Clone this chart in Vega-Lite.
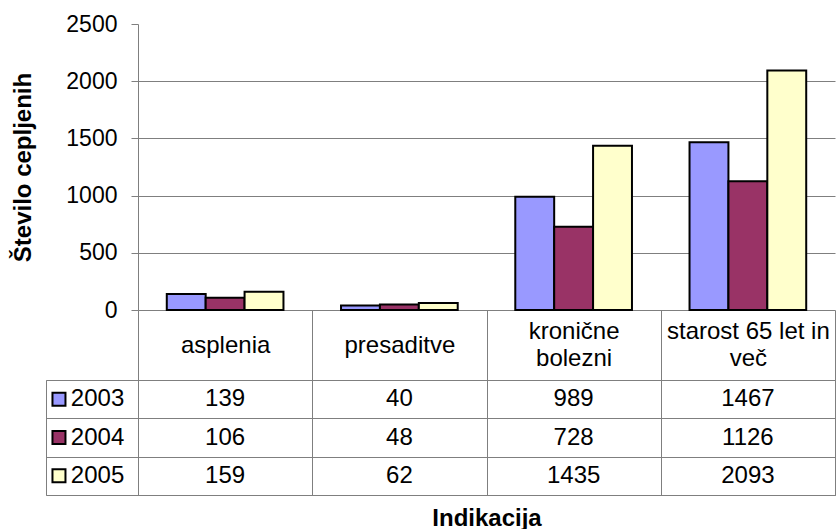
{
  "$schema": "https://vega.github.io/schema/vega-lite/v6.json",
  "background": "white",
  "padding": {"left": 11, "top": 13, "right": 0, "bottom": 0},
  "config": {
    "font": "Liberation Sans",
    "view": {"stroke": null},
    "axis": {"labelColor": "black", "titleColor": "black"}
  },
  "datasets": {
    "vals": [
      {"indikacija": "asplenia", "leto": "2003", "stevilo": 139},
      {"indikacija": "asplenia", "leto": "2004", "stevilo": 106},
      {"indikacija": "asplenia", "leto": "2005", "stevilo": 159},
      {"indikacija": "presaditve", "leto": "2003", "stevilo": 40},
      {"indikacija": "presaditve", "leto": "2004", "stevilo": 48},
      {"indikacija": "presaditve", "leto": "2005", "stevilo": 62},
      {"indikacija": "kronične bolezni", "leto": "2003", "stevilo": 989},
      {"indikacija": "kronične bolezni", "leto": "2004", "stevilo": 728},
      {"indikacija": "kronične bolezni", "leto": "2005", "stevilo": 1435},
      {"indikacija": "starost 65 let in več", "leto": "2003", "stevilo": 1467},
      {"indikacija": "starost 65 let in več", "leto": "2004", "stevilo": 1126},
      {"indikacija": "starost 65 let in več", "leto": "2005", "stevilo": 2093}
    ],
    "leta": [
      {"leto": "2003"},
      {"leto": "2004"},
      {"leto": "2005"}
    ]
  },
  "columns": 2,
  "spacing": {"row": 70, "column": 0},
  "bounds": "flush",
  "concat": [
    {
      "width": 92,
      "height": 286,
      "data": {"values": []},
      "mark": "point"
    },
    {
      "width": 697,
      "height": 286,
      "data": {"name": "vals"},
      "mark": {"type": "bar", "stroke": "black", "strokeWidth": 2},
      "encoding": {
        "x": {
          "field": "indikacija",
          "type": "nominal",
          "sort": ["asplenia", "presaditve", "kronične bolezni", "starost 65 let in več"],
          "scale": {"paddingInner": 0, "paddingOuter": 0},
          "axis": {
            "title": null,
            "labelAngle": 0,
            "labelFontSize": 24,
            "labelBaseline": "middle",
            "labelPadding": {"condition": {"test": "datum.value == 'asplenia' || datum.value == 'presaditve'", "value": -35}, "value": -49},
            "labelLimit": 0,
            "labelLineHeight": 27,
            "labelExpr": "datum.value == 'kronične bolezni' ? ['kronične', 'bolezni'] : datum.value == 'starost 65 let in več' ? ['starost 65 let in', 'več'] : datum.value",
            "tickBand": "extent",
            "tickSize": 70,
            "tickColor": "#7f7f7f",
            "domainColor": "#7f7f7f",
            "grid": false
          }
        },
        "xOffset": {
          "field": "leto",
          "type": "nominal",
          "scale": {"paddingOuter": 0.74, "paddingInner": 0}
        },
        "y": {
          "field": "stevilo",
          "type": "quantitative",
          "scale": {"domain": [0, 2500]},
          "axis": {
            "title": "Število cepljenih",
            "titleFontSize": 24,
            "titleFontWeight": "bold",
            "titlePadding": 30,
            "values": [0, 500, 1000, 1500, 2000, 2500],
            "format": "d",
            "labelFontSize": 23,
            "labelPadding": 14,
            "tickSize": 7,
            "tickColor": "#7f7f7f",
            "domainColor": "#7f7f7f",
            "grid": true,
            "gridColor": "#7f7f7f",
            "gridOpacity": {"condition": {"test": "datum.value == 2500 || datum.value == 0", "value": 0}, "value": 1}
          }
        },
        "color": {
          "field": "leto",
          "type": "nominal",
          "scale": {"range": ["#9999FF", "#993366", "#FFFFCC"]},
          "legend": null
        }
      }
    },
    {
      "width": 92,
      "height": 115,
      "data": {"name": "leta"},
      "view": {"stroke": "#7f7f7f"},
      "encoding": {
        "y": {
          "field": "leto",
          "type": "nominal",
          "scale": {"paddingInner": 0, "paddingOuter": 0},
          "axis": {"title": null, "labels": false, "ticks": false, "domain": false, "grid": true, "tickBand": "extent", "gridColor": "#7f7f7f"}
        }
      },
      "layer": [
        {
          "mark": {"type": "point", "shape": "square", "filled": true, "stroke": "black", "strokeWidth": 2, "size": 169, "opacity": 1},
          "encoding": {
            "x": {"datum": 0.141, "type": "quantitative", "scale": {"domain": [0, 1]}, "axis": null},
            "color": {
              "field": "leto",
              "type": "nominal",
              "scale": {"range": ["#9999FF", "#993366", "#FFFFCC"]},
              "legend": null
            }
          }
        },
        {
          "mark": {"type": "text", "align": "left", "baseline": "middle", "fontSize": 24, "color": "black"},
          "encoding": {
            "x": {"datum": 0.27, "type": "quantitative"},
            "text": {"field": "leto", "type": "nominal"}
          }
        }
      ]
    },
    {
      "width": 697,
      "height": 115,
      "data": {"name": "vals"},
      "view": {"stroke": "#7f7f7f"},
      "mark": {"type": "text", "fontSize": 24, "baseline": "middle", "color": "black"},
      "encoding": {
        "x": {
          "field": "indikacija",
          "type": "nominal",
          "sort": ["asplenia", "presaditve", "kronične bolezni", "starost 65 let in več"],
          "scale": {"paddingInner": 0, "paddingOuter": 0},
          "axis": {
            "title": "Indikacija",
            "titleFontSize": 24,
            "titleFontWeight": "bold",
            "titlePadding": 11,
            "labels": false,
            "ticks": false,
            "domain": false,
            "grid": true,
            "tickBand": "extent",
            "gridColor": "#7f7f7f"
          }
        },
        "y": {
          "field": "leto",
          "type": "nominal",
          "scale": {"paddingInner": 0, "paddingOuter": 0},
          "axis": {"title": null, "labels": false, "ticks": false, "domain": false, "grid": true, "tickBand": "extent", "gridColor": "#7f7f7f"}
        },
        "text": {"field": "stevilo", "type": "quantitative", "format": "d"}
      }
    }
  ]
}
